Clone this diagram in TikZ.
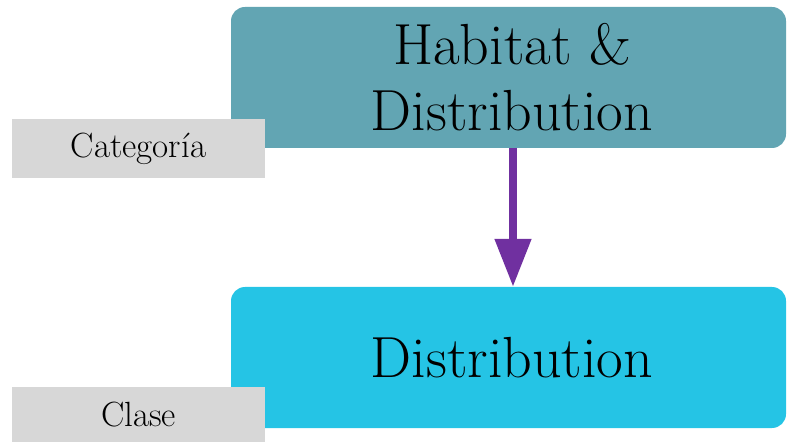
\documentclass[tikz,border=0pt]{standalone}
\usetikzlibrary{arrows.meta}
\definecolor{tealbox}{HTML}{62A5B3}
\definecolor{cyanbox}{HTML}{25C4E5}
\definecolor{graybox}{HTML}{D7D7D7}
\definecolor{arrowpurple}{HTML}{7030A0}
\begin{document}
\begin{tikzpicture}[x=1pt,y=1pt,
  mainbox/.style={rounded corners=14pt, minimum width=555pt, minimum height=141pt, inner sep=0pt, align=center, font=\fontsize{58}{64}\selectfont},
  tagbox/.style={fill=graybox, minimum width=253pt, inner sep=0pt, font=\fontsize{35}{40}\selectfont},
  arr/.style={draw=arrowpurple, line width=8pt, -{Triangle[length=48pt,width=35pt]}}]
\useasboundingbox (0,0) rectangle (787,442);
\node[mainbox, fill=tealbox] (top) at (508.5,364.5) {\raisebox{2pt}{\hspace{7pt}Habitat \&}\\\hspace{7pt}Distribution};
\node[mainbox, fill=cyanbox] (bot) at (508.5,84.5) {\hspace{7pt}Distribution};
\node[tagbox, minimum height=59pt] (cat) at (138.5,293.5) {Categoría};
\node[tagbox, minimum height=55pt] (cla) at (138.5,27.5) {Clase};
\draw[arr] ([xshift=4.5pt]top.south) -- ([xshift=4.5pt]bot.north);
\end{tikzpicture}
\end{document}
